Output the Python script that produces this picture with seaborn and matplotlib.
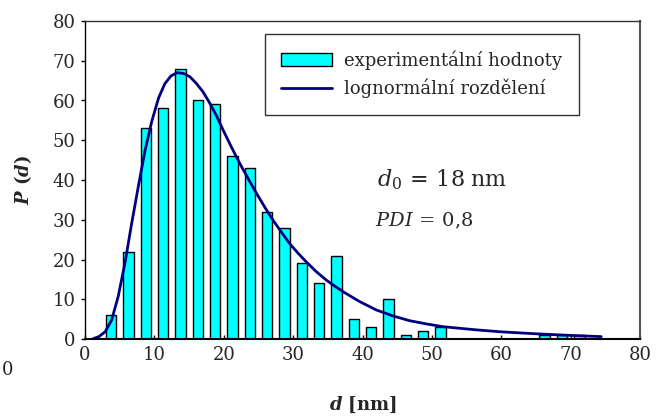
import matplotlib
matplotlib.use("Agg")
import matplotlib.pyplot as plt
import seaborn as sns
import pandas as pd
from matplotlib.patches import Patch
from matplotlib.lines import Line2D

# Histogram data (bin centres and counts)
bin_centers = [3.75, 6.25, 8.75, 11.25, 13.75, 16.25, 18.75, 21.25, 23.75, 26.25,
               28.75, 31.25, 33.75, 36.25, 38.75, 41.25, 43.75, 46.25, 48.75, 51.25,
               66.25, 68.75, 71.25]
counts = [6, 22, 53, 58, 68, 60, 59, 46, 43, 32,
          28, 19, 14, 21, 5, 3, 10, 1, 2, 3,
          1, 1, 1]

# Lognormal curve, points
curve_d = [1.2, 2.0, 2.9, 3.85, 4.8, 5.8, 6.7, 7.7, 8.65, 9.6, 10.6, 11.5, 12.4, 13.3,
           14.2, 15.1, 16.0, 17.0, 18.0, 19.0, 19.9, 21.1, 22.3, 23.5, 24.7, 25.9,
           27.1, 28.3, 29.5, 30.7, 31.9, 33.3, 34.8, 36.0, 37.2, 39.6, 42.0, 44.4,
           46.8, 49.2, 51.6, 54.0, 56.4, 60.0, 65.1, 70.0, 74.4]
curve_p = [0.1, 0.6, 1.8, 4.8, 10.8, 19.5, 28.8, 38.5, 47.4, 54.6, 60.6, 64.2, 66.2, 67.0,
           66.8, 66.0, 64.4, 62.2, 59.3, 56.0, 52.6, 48.3, 44.2, 40.4, 36.7, 33.2,
           29.9, 26.9, 24.0, 21.6, 19.4, 17.0, 14.8, 13.3, 11.9, 9.4, 7.3, 5.8,
           4.6, 3.8, 3.1, 2.7, 2.3, 1.8, 1.3, 0.9, 0.6]

x_ticks = [0, 10, 20, 30, 40, 50, 60, 70, 80]
y_ticks = [0, 10, 20, 30, 40, 50, 60, 70, 80]

sns.set_theme(style="white")
plt.rcParams['font.family'] = ['DejaVu Serif']
plt.rcParams['mathtext.fontset'] = 'dejavuserif'

fig = plt.figure(figsize=(6.59, 4.19), dpi=100)
ax = fig.add_axes([85/659, 1-339/419, (640-85)/659, (339-21)/419])

hist_df = pd.DataFrame({"d": bin_centers, "P": counts})
curve_df = pd.DataFrame({"d": curve_d, "P": curve_p})

sns.barplot(data=hist_df, x="d", y="P", native_scale=True, width=0.6,
            color="#00FFFF", saturation=1, edgecolor="black", linewidth=1.0,
            ax=ax, errorbar=None)
sns.lineplot(data=curve_df, x="d", y="P", color="#000080", linewidth=2.0,
             ax=ax, estimator=None, sort=False)

ax.set_xlim(0, 80)
ax.set_ylim(0, 80)
ax.set_xticks(x_ticks)
ax.set_yticks(y_ticks)
ax.set_xticklabels([str(t) for t in x_ticks], fontsize=13)
ax.set_yticklabels([str(t) for t in y_ticks], fontsize=13)
ax.tick_params(axis='x', direction='in', length=3, width=1, color='black', pad=5)
ax.tick_params(axis='y', direction='out', length=3, width=1, color='black', pad=4)
ax.tick_params(bottom=True, left=True)

for s in ax.spines.values():
    s.set_visible(True)
    s.set_color('#333333')
    s.set_linewidth(1.0)
ax.spines['bottom'].set_color('black')
ax.spines['bottom'].set_linewidth(1.5)
ax.spines['left'].set_color('black')
ax.spines['right'].set_color('#555555')
ax.spines['right'].set_linewidth(1.5)

ax.set_xlabel(r"$\boldsymbol{d}$ [nm]", fontsize=13, fontweight='bold', labelpad=22)
ax.set_ylabel(r"$\boldsymbol{P}$ ($\boldsymbol{d}$)", fontsize=13, fontweight='bold', labelpad=13)

handles = [Patch(facecolor="#00FFFF", edgecolor="black", linewidth=1.0),
           Line2D([0], [0], color="#000080", linewidth=2.0)]
leg = ax.legend(handles, ["experimentální hodnoty", "lognormální rozdělení"],
                loc='upper left', bbox_to_anchor=((265-85)/555, (339-34)/318),
                fontsize=13, frameon=True, fancybox=False, framealpha=1,
                edgecolor='#333333', borderpad=0.9, handlelength=2.8,
                handleheight=0.7, handletextpad=0.7, labelspacing=0.5,
                borderaxespad=0)
leg.get_frame().set_linewidth(1.0)

ax.text(0.527, 0.50, r"$d_0\,=\,18\;\mathrm{nm}$", transform=ax.transAxes,
        fontsize=16, ha='left', va='center')
ax.text(0.522, 0.37, r"$PDI\,=\,0{,}8$", transform=ax.transAxes,
        fontsize=14, ha='left', va='center')

fig.text(2/659, 1-370/419, "0", fontsize=13, ha='left', va='center')

fig.savefig("out.png", dpi=100)
